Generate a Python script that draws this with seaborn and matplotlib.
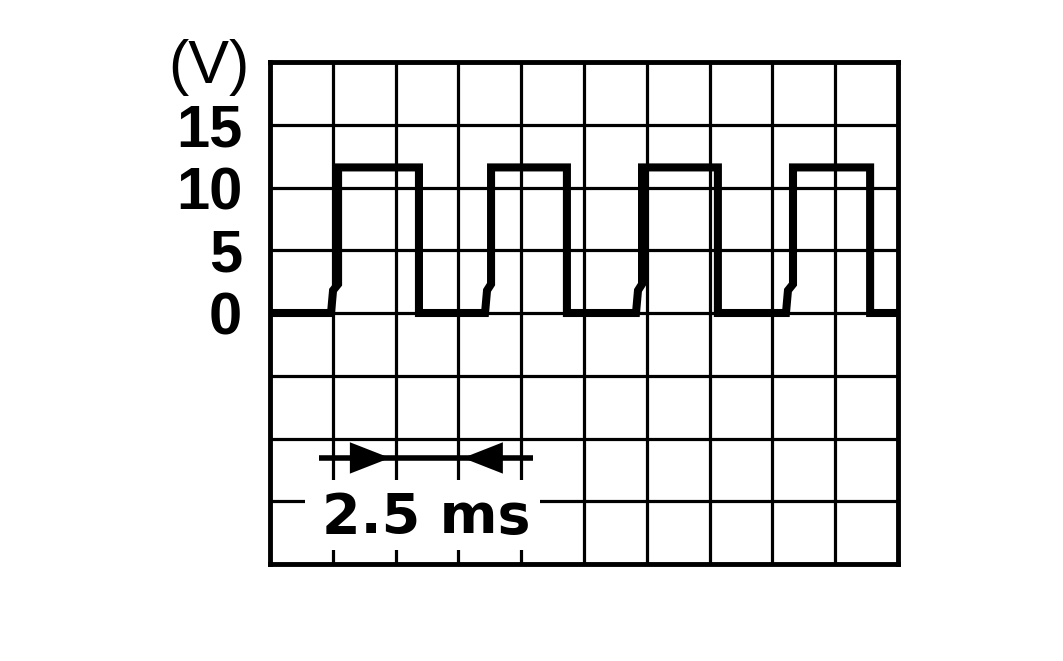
import numpy as np
import pandas as pd
import seaborn as sns
import matplotlib
matplotlib.use('Agg')
from matplotlib import pyplot as plt
from matplotlib.patches import Rectangle

# 波形データ (ms, V)
time_ms = [0.0, 2.43, 2.51, 2.71, 2.71, 5.93, 5.93,
           8.56, 8.64, 8.80, 8.80, 11.82, 11.82,
           14.57, 14.65, 14.81, 14.81, 17.83, 17.83,
           20.54, 20.62, 20.82, 20.82, 23.89, 23.89, 25.0]
volt = [0.0, 0.0, 1.8, 2.3, 11.6, 11.6, 0.0,
        0.0, 1.8, 2.3, 11.6, 11.6, 0.0,
        0.0, 1.8, 2.3, 11.6, 11.6, 0.0,
        0.0, 1.8, 2.3, 11.6, 11.6, 0.0, 0.0]

x_ticks = [i * 2.5 for i in range(11)]
y_ticks = [-20, -15, -10, -5, 0, 5, 10, 15, 20]
y_labels = ['', '', '', '', '0', '5', '10', '15', '']

# 2.5 ms の寸法線
dim_y = -11.55
dim_line = [1.95, 10.47]
arrow_right = [3.18, 4.78]   # base, tip
arrow_left = [9.27, 7.68]

sns.set_style('white')
plt.rcParams['font.family'] = ['Liberation Sans', 'DejaVu Sans']
plt.rcParams['text.color'] = 'black'
plt.rcParams['ytick.color'] = 'black'

fig = plt.figure(figsize=(10.63, 6.61), dpi=100)
ax = fig.add_axes([270 / 1063, 97 / 661, 628 / 1063, 502 / 661])

df = pd.DataFrame({'t': time_ms, 'v': volt})
sns.lineplot(data=df, x='t', y='v', sort=False, estimator=None,
             color='black', lw=5.8, ax=ax, zorder=5,
             solid_joinstyle='miter')

ax.set_xlim(0, 25)
ax.set_ylim(-20, 20)
ax.set_xticks(x_ticks)
ax.set_xticklabels([])
ax.set_yticks(y_ticks)
ax.set_yticklabels(y_labels, fontsize=43, fontweight='bold')
ax.tick_params(axis='both', length=0)
ax.tick_params(axis='y', pad=20)
ax.grid(True, color='black', lw=2.3)
ax.set_axisbelow(True)
for s in ax.spines.values():
    s.set_linewidth(3.5)
    s.set_color('black')
ax.set_xlabel('')
ax.set_ylabel('')

# (V)
ax.text(-0.8, 19.6, '(V)', fontsize=44, ha='right', va='center',
        color='black', clip_on=False)

# 寸法線と矢印
ax.plot(dim_line, [dim_y, dim_y], color='black', lw=4, zorder=6,
        solid_capstyle='butt')
for base, tip in [arrow_right, arrow_left]:
    ax.fill([base, tip, base], [dim_y + 1.25, dim_y, dim_y - 1.25],
            color='black', zorder=7, lw=0)

# 文字の背景 (グリッドを切る)
ax.add_patch(Rectangle((1.39, -18.9), 9.36, 5.6, fc='white', ec='none',
                       zorder=3))
ax.text(6.23, -17.5, '2.5 ms', fontsize=40, fontweight='bold',
        family='DejaVu Sans', color='black',
        ha='center', va='baseline', zorder=8)

fig.savefig('out.png', dpi=100)
